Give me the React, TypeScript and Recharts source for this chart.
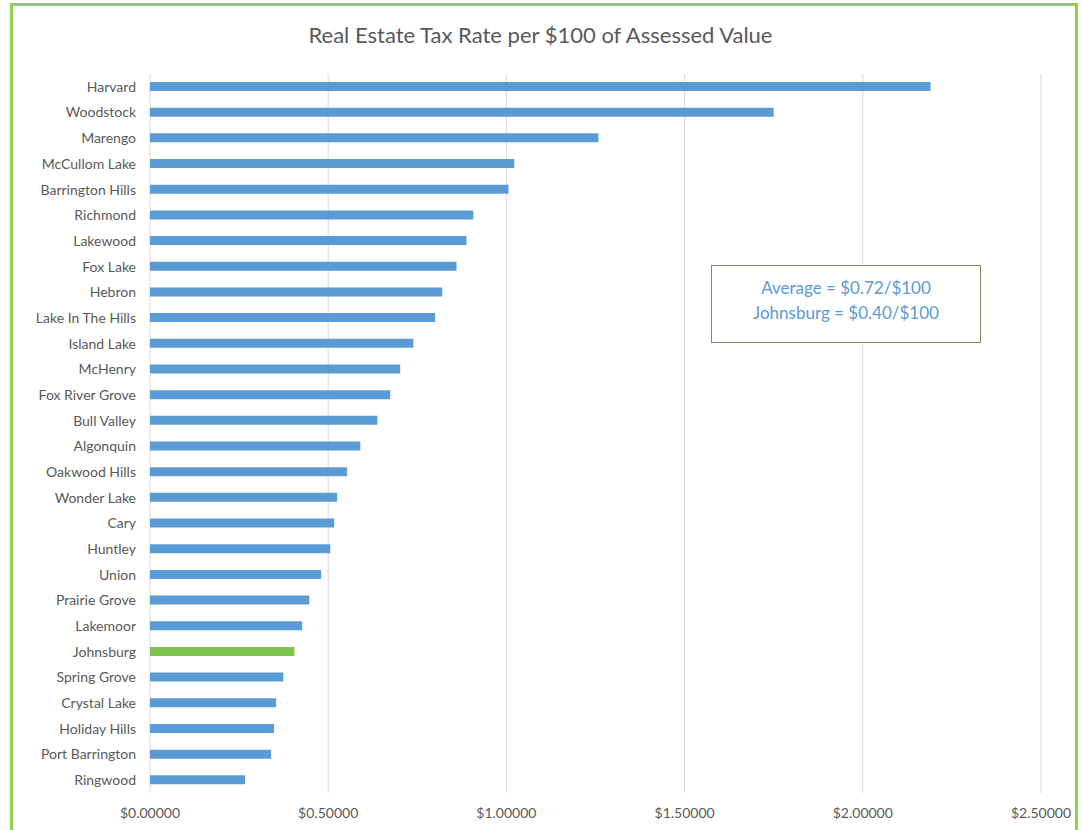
import { BarChart, Bar, XAxis, YAxis, CartesianGrid, Cell } from "recharts";

const towns = [
  "Harvard",
  "Woodstock",
  "Marengo",
  "McCullom Lake",
  "Barrington Hills",
  "Richmond",
  "Lakewood",
  "Fox Lake",
  "Hebron",
  "Lake In The Hills",
  "Island Lake",
  "McHenry",
  "Fox River Grove",
  "Bull Valley",
  "Algonquin",
  "Oakwood Hills",
  "Wonder Lake",
  "Cary",
  "Huntley",
  "Union",
  "Prairie Grove",
  "Lakemoor",
  "Johnsburg",
  "Spring Grove",
  "Crystal Lake",
  "Holiday Hills",
  "Port Barrington",
  "Ringwood",
];

const rates = [
  2.19, 1.75, 1.258, 1.022, 1.006, 0.907, 0.888, 0.86, 0.82, 0.8, 0.739, 0.702,
  0.674, 0.638, 0.59, 0.553, 0.525, 0.517, 0.506, 0.48, 0.447, 0.427, 0.405,
  0.374, 0.354, 0.348, 0.34, 0.267,
];

const xTicks = [0, 0.5, 1, 1.5, 2, 2.5];

const highlight = "Johnsburg";

const data = towns.map((name, i) => ({ name, rate: rates[i] }));

const font = "Lato, 'Open Sans', sans-serif";

export default function App() {
  return (
    <div
      style={{
        position: "fixed",
        left: 0,
        top: 0,
        width: 1081,
        height: 830,
        overflow: "hidden",
        background: "#fff",
        fontFamily: font,
      }}
    >
      <div
        style={{
          position: "absolute",
          left: 10,
          top: 3,
          width: 1068,
          height: 840,
          border: "3px solid #92D050",
          boxSizing: "border-box",
        }}
      />
      <div
        style={{
          position: "absolute",
          top: 21,
          left: 0,
          width: 1081,
          textAlign: "center",
          fontSize: 22,
          color: "#595959",
        }}
      >
        Real Estate Tax Rate per $100 of Assessed Value
      </div>
      <div style={{ position: "absolute", left: 0, top: 0 }}>
        <BarChart
          layout="vertical"
          width={1081}
          height={830}
          data={data}
          margin={{ top: 74, right: 40, left: 0, bottom: 7 }}
        >
          <CartesianGrid horizontal={false} stroke="#d9d9d9" />
          <XAxis
            type="number"
            domain={[0, 2.5]}
            ticks={xTicks}
            axisLine={false}
            tickLine={false}
            height={30}
            tickMargin={9}
            tickFormatter={(v: number) => `$${v.toFixed(5)}`}
            tick={{ fill: "#595959", fontSize: 14, fontFamily: font }}
          />
          <YAxis
            type="category"
            dataKey="name"
            width={150}
            axisLine={false}
            tickLine={false}
            interval={0}
            tickMargin={8}
            tick={{ fill: "#595959", fontSize: 14, fontFamily: font }}
          />
          <Bar dataKey="rate" barSize={9} isAnimationActive={false}>
            {data.map((d) => (
              <Cell
                key={d.name}
                fill={d.name === highlight ? "#7DC24B" : "#5B9BD5"}
              />
            ))}
          </Bar>
        </BarChart>
      </div>
      <div
        style={{
          position: "absolute",
          left: 711,
          top: 265,
          width: 270,
          height: 78,
          border: "1px solid #7A8A6A",
          background: "#fff",
          boxSizing: "border-box",
          color: "#5B9BD5",
          fontSize: 17,
          textAlign: "center",
          paddingTop: 9,
          lineHeight: "25px",
        }}
      >
        <div>Average = $0.72/$100</div>
        <div>Johnsburg = $0.40/$100</div>
      </div>
    </div>
  );
}
